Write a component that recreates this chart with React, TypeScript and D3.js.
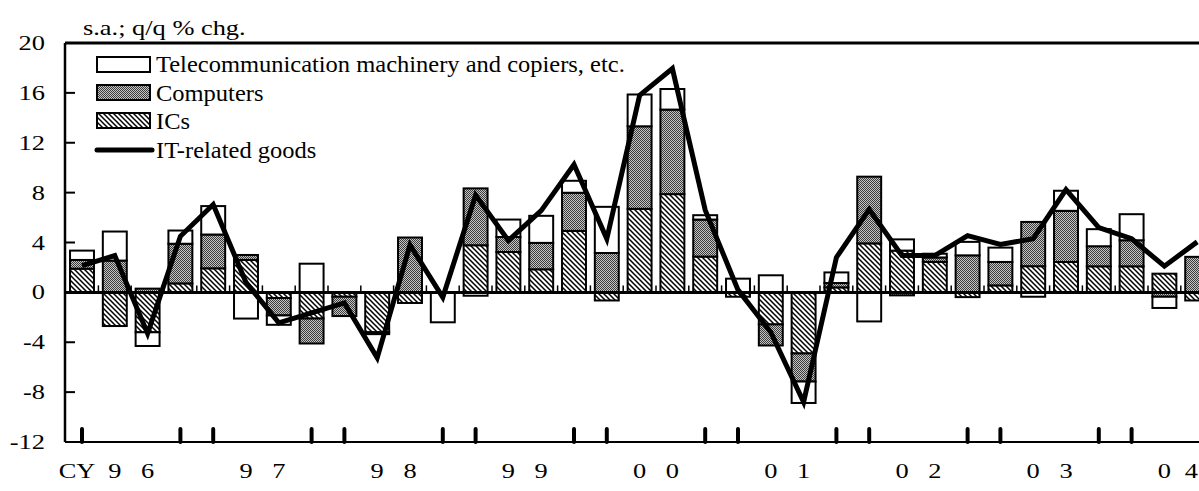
import React from "react";
import * as d3 from "d3";

const quarters = [
  "96Q1","96Q2","96Q3","96Q4","97Q1","97Q2","97Q3","97Q4","98Q1","98Q2","98Q3","98Q4",
  "99Q1","99Q2","99Q3","99Q4","00Q1","00Q2","00Q3","00Q4","01Q1","01Q2","01Q3","01Q4",
  "02Q1","02Q2","02Q3","02Q4","03Q1","03Q2","03Q3","03Q4","04Q1","04Q2","04Q3"
];
const ics = [1.9, -2.7, -3.2, 0.72, 1.93, 2.6, -0.45, -2.1, -0.35, -3.2, -0.85, 0, 3.78, 3.24, 1.85, 4.93, -0.65, 6.7, 7.88, 2.87, -0.35, -2.57, -4.9, 0.4, 3.93, 3.35, 2.45, -0.38, 0.56, 2.1, 2.44, 2.09, 2.09, 1.5, -0.65];
const computers = [0.7, 2.55, 0.3, 3.18, 2.71, 0.4, -1.4, -2.0, -1.55, 0, 4.4, 0, 4.56, 1.2, 2.12, 3.06, 3.16, 6.62, 6.78, 2.97, 0, -1.69, -2.25, 0.35, 5.35, -0.24, 0.35, 2.97, 1.88, 3.55, 4.1, 1.61, 2.09, -0.35, 2.85];
const telecom = [0.75, 2.33, -1.1, 1.06, 2.28, -2.1, -0.75, 2.3, 0, -0.15, 0, -2.4, -0.27, 1.4, 2.17, 0.96, 3.7, 2.55, 1.65, 0.35, 1.1, 1.37, -1.72, 0.85, -2.33, 0.9, 0.3, 1.08, 1.15, -0.35, 1.61, 1.37, 2.09, -0.9, 0];
const itGoods = [2.15, 2.95, -3.3, 4.5, 7.05, 0.8, -2.45, -1.65, -0.85, -5.25, 3.8, -0.4, 7.8, 4.15, 6.55, 10.25, 4.3, 15.8, 17.95, 6.6, 0.2, -3.2, -8.8, 2.8, 6.65, 2.95, 2.95, 4.55, 3.85, 4.3, 8.25, 5.2, 4.3, 2.1, 4.05];
const yTicks = [20, 16, 12, 8, 4, 0, -4, -8, -12];
const years = ["96", "97", "98", "99", "00", "01", "02", "03", "04"];
const legendItems = ["Telecommunication machinery and copiers, etc.", "Computers", "ICs", "IT-related goods"];

const W = 1199, H = 491;
const FONT = "'Liberation Serif', 'Times New Roman', serif";

function T({ x, y, anchor = "start", fs = 22, sx = 1.2, children }: any) {
  return (
    <text transform={`translate(${x},${y}) scale(${sx},1)`} textAnchor={anchor}
      fontFamily={FONT} fontSize={fs} fill="#000">{children}</text>
  );
}

export default function App() {
  const x0 = 65.6, step = 32.8;
  const x = d3.scaleBand().domain(quarters).range([x0, x0 + step * quarters.length]).padding(0);
  const y = d3.scaleLinear().domain([-12, 20]).range([442, 43]);
  const bw = x.bandwidth() * 0.73;
  const cx = (q: string) => (x(q) as number) + x.bandwidth() / 2;

  const rows = quarters.map((q, i) => ({ q, ics: ics[i], comp: computers[i], tel: telecom[i] }));
  const series = d3.stack<any>().keys(["ics", "comp", "tel"]).offset(d3.stackOffsetDiverging)(rows);
  const fills: Record<string, string> = { ics: "url(#hatch)", comp: "url(#dots)", tel: "#fff" };

  const line = d3.line<number>().x((_, i) => cx(quarters[i])).y((d) => y(d));
  const right = W + 30;

  return (
    <div style={{ position: "absolute", left: 0, top: 0 }}>
      <svg width={W} height={H} style={{ display: "block" }}>
        <defs>
          <pattern id="hatch" width="5" height="5" patternUnits="userSpaceOnUse">
            <rect width="5" height="5" fill="#fff" />
            <path d="M-1,-1 L6,6 M-1,4 L1,6 M4,-1 L6,1" stroke="#000" strokeWidth="1.5" />
          </pattern>
          <pattern id="dots" width="2" height="2" patternUnits="userSpaceOnUse">
            <rect width="2" height="2" fill="#c4c4c4" />
            <rect x="0" y="0" width="1" height="1" fill="#3c3c3c" />
            <rect x="1" y="1" width="1" height="1" fill="#3c3c3c" />
          </pattern>
        </defs>
        <rect width={W} height={H} fill="#fff" />

        {/* bars */}
        {series.map((s) => (
          <g key={s.key}>
            {s.map((d, i) => {
              const v0 = d[0], v1 = d[1];
              if (Math.abs(v1 - v0) < 1e-9) return null;
              const top = y(Math.max(v0, v1)), bot = y(Math.min(v0, v1));
              return (
                <rect key={i} x={cx(quarters[i]) - bw / 2} y={top} width={bw} height={bot - top}
                  fill={fills[s.key as string]} stroke="#000" strokeWidth={2} />
              );
            })}
          </g>
        ))}

        {/* zero line and ticks */}
        <line x1={65} x2={right} y1={y(0)} y2={y(0)} stroke="#000" strokeWidth={3} />
        {d3.range(1, quarters.length + 1).map((k) => (
          <line key={k} x1={x0 + step * k} x2={x0 + step * k} y1={y(0)} y2={y(0) - 7} stroke="#000" strokeWidth={1.5} />
        ))}

        {/* frame */}
        <line x1={65} x2={right} y1={43} y2={43} stroke="#000" strokeWidth={3} />
        <line x1={65} x2={right} y1={442} y2={442} stroke="#000" strokeWidth={2} />
        <line x1={65} x2={65} y1={43} y2={442} stroke="#000" strokeWidth={2.5} />
        {yTicks.map((t) => (
          <line key={t} x1={65} x2={75} y1={y(t)} y2={y(t)} stroke="#000" strokeWidth={2} />
        ))}
        {quarters.map((q) =>
          q.endsWith("Q1") || q.endsWith("Q4") ? (
            <line key={q} x1={cx(q)} x2={cx(q)} y1={429} y2={442} stroke="#000" strokeWidth={4} strokeLinecap="round" />
          ) : null
        )}

        {/* IT line */}
        <path d={line(itGoods) || ""} fill="none" stroke="#000" strokeWidth={5} strokeLinejoin="miter" />

        {/* y labels */}
        {yTicks.map((t) => (
          <T key={t} x={45} y={y(t) + 7} anchor="end">{String(t)}</T>
        ))}

        {/* x labels */}
        <T x={77} y={478} anchor="middle">CY</T>
        {years.map((yr, i) => {
          const q2 = quarters[i * 4 + 1];
          const q3 = quarters[i * 4 + 2];
          const x2 = q2 ? cx(q2) : x0 + step * (i * 4 + 1.5);
          const x3 = q3 ? cx(q3) : x0 + step * (i * 4 + 2.5);
          const overflow = x3 + 8 > W;
          return (
            <g key={yr}>
              <T x={x2} y={478} anchor="middle">{yr[0]}</T>
              {overflow ? (
                <T x={W - 1} y={478} anchor="end">{yr[1]}</T>
              ) : (
                <T x={x3} y={478} anchor="middle">{yr[1]}</T>
              )}
            </g>
          );
        })}

        {/* title */}
        <T x={83} y={35}>s.a.; q/q % chg.</T>

        {/* legend */}
        <rect x={97} y={57} width={53} height={15} fill="#fff" stroke="#000" strokeWidth={2} />
        <rect x={97} y={85} width={53} height={15} fill="url(#dots)" stroke="#000" strokeWidth={2} />
        <rect x={97} y={113} width={53} height={15} fill="url(#hatch)" stroke="#000" strokeWidth={2} />
        <line x1={97} x2={152} y1={150} y2={150} stroke="#000" strokeWidth={5} strokeLinecap="round" />
        <T x={156} y={72} fs={23} sx={1.065}>{legendItems[0]}</T>
        <T x={156} y={101} fs={23} sx={1.065}>{legendItems[1]}</T>
        <T x={156} y={129} fs={23} sx={1.065}>{legendItems[2]}</T>
        <T x={156} y={158} fs={23} sx={1.065}>{legendItems[3]}</T>
      </svg>
    </div>
  );
}
